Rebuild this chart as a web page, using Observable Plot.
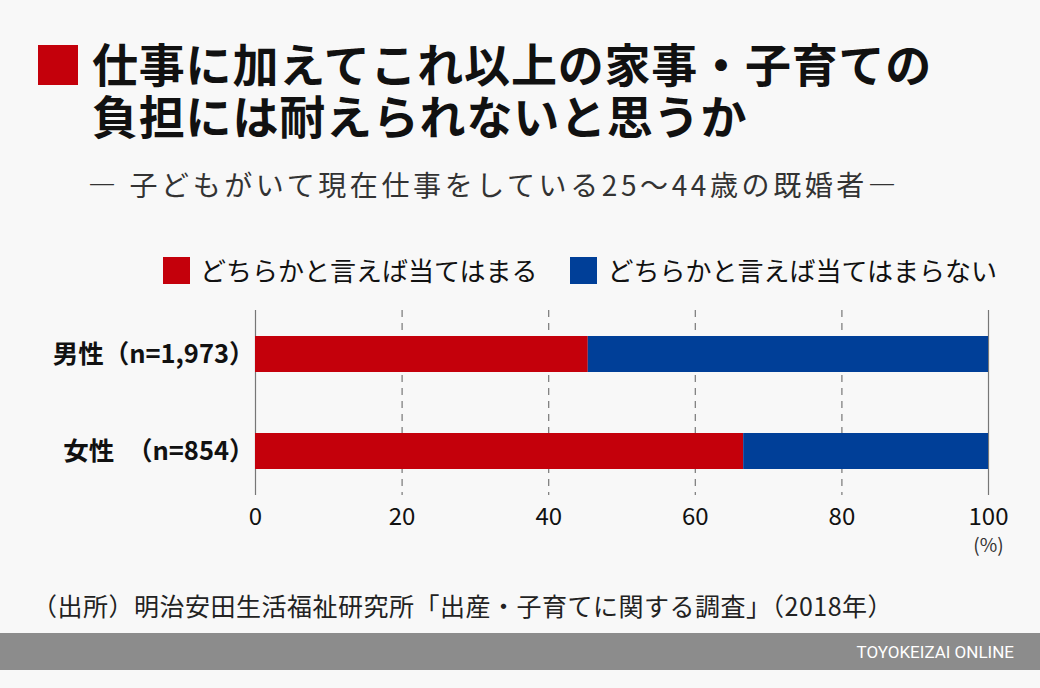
<!DOCTYPE html>
<html><head><meta charset="utf-8">
<script src="https://cdn.jsdelivr.net/npm/d3@7"></script>
<script src="https://cdn.jsdelivr.net/npm/@observablehq/plot@0.6"></script>
<style>
html,body{margin:0;padding:0;background:#f8f8f8;}
#wrap{position:relative;width:1040px;height:688px;background:#f8f8f8;font-family:"Noto Sans CJK JP","Noto Sans",sans-serif;color:#111;overflow:hidden;}
.abs{position:absolute;white-space:nowrap;}
#mark{left:38px;top:45px;width:40px;height:40px;background:#c4000b;}
.title{left:92px;font-size:46px;font-weight:700;line-height:52px;letter-spacing:0.8px;}
#t1{top:36px;}
#t2{top:88px;}
#sub{left:88px;top:166px;font-size:28px;line-height:36px;color:#333;letter-spacing:3.6px;}
#legend{left:163px;top:254px;font-size:26px;line-height:32px;display:flex;align-items:center;}
.sw{display:inline-block;width:27px;height:27px;margin-right:10px;}
#source{left:32px;top:588px;font-size:25px;line-height:34px;color:#222;letter-spacing:0.5px;}
#band{left:0;top:633px;width:1040px;height:37px;background:#8c8c8c;}
#brand{right:26px;top:640px;font-size:17px;line-height:24px;color:#fff;font-family:"Roboto","Liberation Sans",sans-serif;}
#chart{left:0;top:300px;}
</style></head>
<body><div id="wrap">
<div id="mark" class="abs"></div>
<div id="t1" class="abs title">仕事に加えてこれ以上の家事・子育ての</div>
<div id="t2" class="abs title">負担には耐えられないと思うか</div>
<div id="sub" class="abs">― 子どもがいて現在仕事をしている25～44歳の既婚者―</div>
<div id="legend" class="abs"></div>
<div id="chart" class="abs"></div>
<div id="source" class="abs">（出所）明治安田生活福祉研究所「出産・子育てに関する調査」（2018年）</div>
<div id="band" class="abs"></div>
<div id="brand" class="abs">TOYOKEIZAI ONLINE</div>
</div>
<script>
const categories = ["男性（n=1,973）", "女性　（n=854）"];
const seriesNames = ["どちらかと言えば当てはまる", "どちらかと言えば当てはまらない"];
const agree = [45.4, 66.6];
const disagree = [54.6, 33.4];
const xTicks = [0, 20, 40, 60, 80, 100];
const colors = ["#c4000b", "#003f98"];

const rows = [];
categories.forEach((c, i) => {
  rows.push({cat: c, series: seriesNames[0], value: agree[i]});
  rows.push({cat: c, series: seriesNames[1], value: disagree[i]});
});

const leg = document.getElementById("legend");
seriesNames.forEach((s, i) => {
  const sp = document.createElement("span");
  sp.style.display = "inline-flex"; sp.style.alignItems = "center";
  sp.style.marginRight = "33px";
  sp.innerHTML = `<span class="sw" style="background:${colors[i]}"></span>${s}`;
  leg.appendChild(sp);
});

const chart = Plot.plot({
  width: 1040,
  height: 260,
  marginTop: 10,
  marginBottom: 65,
  marginLeft: 255,
  marginRight: 52,
  style: {background: "transparent", fontFamily: "'Noto Sans CJK JP', sans-serif", color: "#111"},
  x: {domain: [0, 100], ticks: xTicks, label: null},
  y: {domain: categories, label: null, paddingInner: 0.63, paddingOuter: 0.26},
  color: {domain: seriesNames, range: colors},
  marks: [
    Plot.ruleX(xTicks.filter(d => d > 0 && d < 100), {stroke: "#777", strokeWidth: 1.2, strokeDasharray: "7,6"}),
    Plot.ruleX([0, 100], {stroke: "#777", strokeWidth: 1.2}),
    Plot.barX(rows, Plot.stackX({x: "value", y: "cat", fill: "series", order: seriesNames})),
    Plot.axisX({ticks: xTicks, tickSize: 0, tickPadding: 12, fontSize: 24, fill: "#111"}),
    Plot.axisY({tickSize: 0, tickPadding: 1, fontSize: 25.5, fontWeight: 700, fill: "#111"}),
    Plot.text([100], {x: d => d, frameAnchor: "bottom", dy: 56, text: () => "(%)", fontSize: 19, fill: "#333"})
  ]
});
document.getElementById("chart").appendChild(chart);
</script>
</body></html>
